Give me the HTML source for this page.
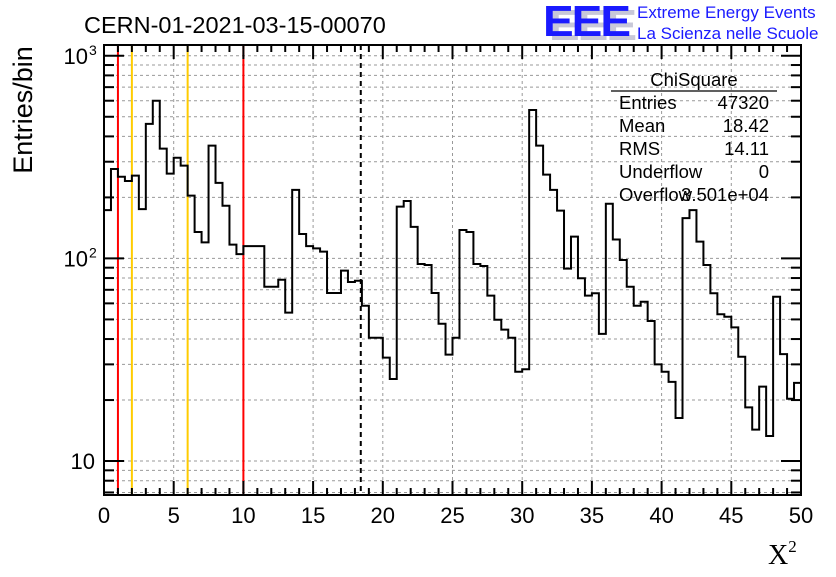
<!DOCTYPE html>
<html><head><meta charset="utf-8"><style>
html,body{margin:0;padding:0;background:#fff;}
body{width:836px;height:572px;overflow:hidden;font-family:"Liberation Sans",sans-serif;}
</style></head><body>
<svg id="chart" width="836" height="572" viewBox="0 0 836 572" xmlns="http://www.w3.org/2000/svg" font-family="Liberation Sans, sans-serif">
<rect width="836" height="572" fill="#fff"/>
<g id="grid"></g>
<g id="vlines"></g>
<g id="hist"></g>
<g id="axes"></g>
<text x="84" y="33" font-size="23.5">CERN-01-2021-03-15-00070</text>
<text x="549" y="42" font-size="46" font-weight="bold" fill="#c8c8d8" letter-spacing="-2" transform="scale(1,0.95)">EEE</text>
<text x="543" y="38" font-size="46" font-weight="bold" fill="#1a1aff" letter-spacing="-2" transform="scale(1,0.95)">EEE</text>
<text x="637" y="18" font-size="17" fill="#1a1aff">Extreme Energy Events</text>
<text x="637" y="39" font-size="17" fill="#1a1aff">La Scienza nelle Scuole</text>
<g font-size="18.5">
<text x="694" y="86" text-anchor="middle">ChiSquare</text>
<line x1="611" y1="91" x2="777" y2="91" stroke="#000" stroke-width="1.3"/>
<text x="619" y="109">Entries</text><text x="769" y="109" text-anchor="end">47320</text>
<text x="619" y="132">Mean</text><text x="769" y="132" text-anchor="end">18.42</text>
<text x="619" y="155">RMS</text><text x="769" y="155" text-anchor="end">14.11</text>
<text x="619" y="178">Underflow</text><text x="769" y="178" text-anchor="end">0</text>
<text x="619" y="201">Overflow</text><text x="769" y="201" text-anchor="end">3.501e+04</text>
</g>
<text transform="translate(32,110) rotate(-90)" text-anchor="middle" font-size="27">Entries/bin</text>
<text x="768" y="564" font-family="Liberation Serif, serif" font-size="28">X<tspan dy="-12" font-size="17">2</tspan></text>
</svg>
<script>
const binEdges = [0, 50];
const counts = [173,276,253,241,256,175,461,600,348,262,
314,287,204,135,120,360,236,182,117,105,
115,115,115,72.5,72.5,78.5,54,218,132,115,
112,108,67.5,67.5,87,76.5,77.6,58.4,40.6,40.6,
32.4,25.4,180,192,143,93.8,92.8,67.5,47.6,33.5,
40.6,138,135,93.8,91.7,65.5,49.8,44.5,40.6,27.6,
28.4,540,360,259,218,172,89,128,79.8,65.5,
67.3,42.4,186,124,98.2,72.5,58.4,61.1,49.1,30,
27.6,24.6,16.3,158,173,121,92.8,67.3,53,51.5,
45.7,32.7,18.4,14.3,23.3,13.3,64.7,33.7,20.3,24.3];
const xTicks = [0,5,10,15,20,25,30,35,40,45,50];
const yRange = [6.8, 1130];
const redLines = [1, 10];
const orangeLines = [2, 6];
const meanLine = [18.42];

const NS="http://www.w3.org/2000/svg";
const L=104,R=801,T=45,B=495;
const sx=v=>L+(v-binEdges[0])/(binEdges[1]-binEdges[0])*(R-L);
const ly0=Math.log10(yRange[0]), ly1=Math.log10(yRange[1]);
const sy=v=>B-(Math.log10(v)-ly0)/(ly1-ly0)*(B-T);
function mk(tag,attrs,parent){const e=document.createElementNS(NS,tag);for(const k in attrs)e.setAttribute(k,attrs[k]);parent.appendChild(e);return e;}

const grid=document.getElementById('grid');
xTicks.forEach(t=>{if(t>binEdges[0]&&t<binEdges[1]){const l=mk('line',{x1:sx(t),x2:sx(t),y1:T,y2:B,stroke:'#999','stroke-dasharray':'3,3','stroke-width':1},grid);

}});
const yMinor=[];
for(let d=0;d<=3;d++)for(let m=1;m<10;m++){const v=m*Math.pow(10,d);if(v>=yRange[0]&&v<=yRange[1])yMinor.push(v);}
yMinor.forEach(v=>{const l=mk('line',{x1:L,x2:R,y1:sy(v),y2:sy(v),stroke:'#999','stroke-dasharray':'3,3','stroke-width':1},grid);

});

const vl=document.getElementById('vlines');
redLines.forEach(v=>{const l=mk('line',{x1:sx(v),x2:sx(v),y1:T,y2:B,stroke:'#ff0000','stroke-width':2},vl);

});
orangeLines.forEach(v=>{const l=mk('line',{x1:sx(v),x2:sx(v),y1:T,y2:B,stroke:'#ffcc00','stroke-width':2},vl);

});
meanLine.forEach(v=>{const l=mk('line',{x1:sx(v),x2:sx(v),y1:T,y2:B,stroke:'#000','stroke-dasharray':'5,4','stroke-width':2},vl);

});

const n=counts.length, w=(binEdges[1]-binEdges[0])/n;
let d='M'+sx(binEdges[0])+','+sy(counts[0]);
counts.forEach((c,i)=>{const x0=binEdges[0]+i*w,x1=x0+w;d+=' L'+sx(x0)+','+sy(c)+' L'+sx(x1)+','+sy(c);});
const h=mk('path',{d:d,fill:'none',stroke:'#000','stroke-width':2},document.getElementById('hist'));



const ax=document.getElementById('axes');
const frame=mk('rect',{x:L,y:T,width:R-L,height:B-T,fill:'none',stroke:'#000','stroke-width':2},ax);


for(let v=binEdges[0];v<=binEdges[1];v++){const len=(v%5===0)?14:7;const X=sx(v);
mk('line',{x1:X,x2:X,y1:B,y2:B-len,stroke:'#000','stroke-width':2},ax);
mk('line',{x1:X,x2:X,y1:T,y2:T+len,stroke:'#000','stroke-width':2},ax);}
xTicks.forEach(t=>{const tx=mk('text',{x:sx(t),y:B+28,'text-anchor':'middle','font-size':22},ax);tx.textContent=t;

});
yMinor.forEach(v=>{const major=[10,100,1000].includes(v);const len=major?20:10;const Y=sy(v);
mk('line',{x1:L,x2:L+len,y1:Y,y2:Y,stroke:'#000','stroke-width':2},ax);
mk('line',{x1:R,x2:R-len,y1:Y,y2:Y,stroke:'#000','stroke-width':2},ax);});
[[10,'10',null],[100,'10','2'],[1000,'10','3']].forEach(([v,b,e])=>{const tx=mk('text',{x:e?88:95,y:sy(v)+8,'text-anchor':'end','font-size':22},ax);tx.textContent=b;


if(e){const s=mk('text',{x:89,y:sy(v)-1,'font-size':14},ax);s.textContent=e;

}});
</script>
</body></html>
